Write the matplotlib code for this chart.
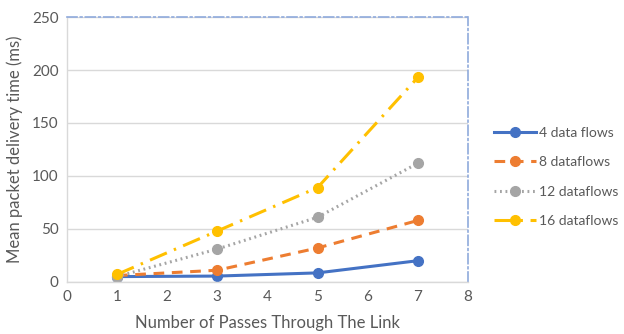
import matplotlib.pyplot as plt

# passes through the link vs mean delivery time (ms)
passes = [1, 3, 5, 7]
flows_4 = [5, 5.5, 8.5, 20]
flows_8 = [6, 11, 32, 58]
flows_12 = [5, 31, 61, 112]
flows_16 = [7, 48, 89, 193]

labels = ['4 data flows', '8 dataflows', '12 dataflows', '16 dataflows']

plt.rcParams['font.family'] = ['Lato', 'DejaVu Sans']
txt = '#595959'

fig = plt.figure(figsize=(6.24, 3.34), dpi=100)
ax = fig.add_axes([0.107, 0.156, 0.643, 0.793])

ax.plot(passes, flows_4, color='#4472C4', lw=2.2, ls='-', marker='o', ms=7, label=labels[0])
ax.plot(passes, flows_8, color='#ED7D31', lw=2.2, ls=(0, (3.5, 2.5)), marker='o', ms=7, label=labels[1])
ax.plot(passes, flows_12, color='#A5A5A5', lw=2.2, ls=(0, (0.6, 1.2)), marker='o', ms=7, label=labels[2])
ax.plot(passes, flows_16, color='#FFC000', lw=2.2, ls=(0, (6, 2.5, 0.8, 2.5)), marker='o', ms=7, label=labels[3])

ax.set_xlim(0, 8)
ax.set_ylim(0, 250)
ax.set_xticks(range(0, 9))
ax.set_yticks(range(0, 251, 50))
ax.grid(axis='y', color='#D9D9D9', lw=1)
ax.set_axisbelow(True)

for s in ['top', 'right']:
    ax.spines[s].set_color('#8FAADC')
    ax.spines[s].set_linestyle((0, (6, 2, 1, 2)))
    ax.spines[s].set_linewidth(1.2)
for s in ['left', 'bottom']:
    ax.spines[s].set_color('#D9D9D9')
    ax.spines[s].set_linewidth(1)
ax.tick_params(length=0, labelsize=11, colors=txt, pad=6)

ax.set_xlabel('Number of Passes Through The Link', fontsize=12, color=txt, labelpad=8)
ax.set_ylabel('Mean packet delivery time (ms)', fontsize=12, color=txt, labelpad=6)

ax.legend(loc='center left', bbox_to_anchor=(1.065, 0.396), frameon=False,
          fontsize=10, labelcolor=txt, handlelength=3.0, labelspacing=1.25,
          handletextpad=0.2, borderaxespad=0, borderpad=0)

fig.savefig('out.png', dpi=100)
